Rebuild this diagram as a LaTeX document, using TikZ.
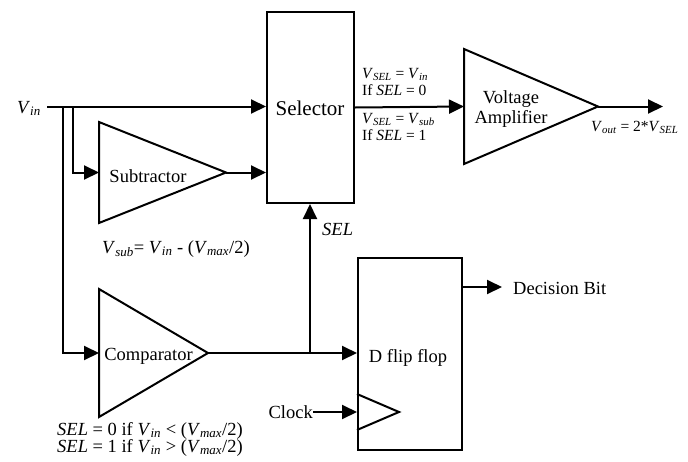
\documentclass[tikz,border=0pt]{standalone}
\usepackage{fontspec}
\setmainfont{Liberation Serif}
\usetikzlibrary{arrows.meta}

\newcommand{\Vx}[1]{\textit{V}\textsubscript{\textit{#1}}}

\tikzset{
  wire/.style={line width=2pt, line join=miter},
  sig/.style={wire, -{Triangle[length=15pt,width=14pt]}},
  blockbox/.style={draw, wire, anchor=north west, inner sep=0pt},
  lbl/.style={font=\fontsize{18.5}{20}\selectfont, inner sep=0pt},
  small/.style={font=\fontsize{15.5}{17}\selectfont, inner sep=0pt, anchor=base west},
}

\begin{document}
\begin{tikzpicture}[x=1pt, y=-1pt]
    \useasboundingbox (0, 0) rectangle (688, 461);
    % blocks
    \node[blockbox, minimum width=87pt, minimum height=191pt] (sel) at (266, 11) {};
    \node[lbl, font=\fontsize{21}{24}\selectfont, anchor=base] (seltxt) at (310, 115) {Selector};
    \node[blockbox, minimum width=104pt, minimum height=192pt] (dff) at (357, 257) {};
    \node[lbl, anchor=base] (dfftxt) at (408, 362) {D flip flop};
    \draw[wire] (357, 394) to (399, 412) to (357, 430);
    % triangles
    \coordinate (subin) at (99, 172.5);
    \coordinate (subtip) at (226, 172.5);
    \draw[wire] (99, 122) to (subtip) to (99, 223) to cycle;
    \node[lbl, anchor=base] (subtxt) at (148, 182) {Subtractor};
    \coordinate (compin) at (99, 353);
    \coordinate (comptip) at (208, 353);
    \draw[wire] (99, 289) to (comptip) to (99, 417) to cycle;
    \node[lbl, anchor=base] (comptxt) at (148.5, 360) {Comparator};
    \coordinate (ampin) at (464, 106.5);
    \coordinate (amptip) at (598, 106.5);
    \draw[wire] (464, 49) to (amptip) to (464, 164) to cycle;
    \node[lbl, anchor=base] (amptxt1) at (511, 103) {Voltage};
    \node[lbl, anchor=base] (amptxt2) at (511, 123) {Amplifier};
    % signals
    \node[lbl, anchor=base east] (vin) at (41, 113) {\Vx{in}};
    \coordinate (vinst) at (47, 106.5);
    \coordinate (br1) at (63, 106.5);
    \coordinate (br2) at (73, 106.5);
    \coordinate (junc) at (310, 353);
    \coordinate (vout) at (663, 106.5);
    \coordinate (dffq) at (461, 287);
    \draw[sig] (vinst) to (vinst -| sel.west);
    \draw[sig] (br2) |- (subin);
    \draw[sig] (br1) |- (compin);
    \draw[sig] (subtip) to (subtip -| sel.west);
    \draw[sig] (sel.east) to (ampin);
    \draw[sig] (amptip) to (vout);
    \draw[sig] (comptip) to (comptip -| dff.west);
    \draw[sig] (junc) to (junc |- sel.south);
    \node[lbl, anchor=east] (clk) at (313, 412) {Clock};
    \draw[sig] (clk.east) to (clk.east -| dff.west);
    \node[lbl, anchor=west] (dec) at (513, 288) {Decision Bit};
    \draw[sig] (dffq) to (502, 287);
    % labels
    \node[small] (case0a) at (362, 78) {\Vx{SEL} = \Vx{in}};
    \node[small] (case0b) at (362, 95) {If \textit{SEL} = 0};
    \node[small] (case1a) at (362, 123) {\Vx{SEL} = \Vx{sub}};
    \node[small] (case1b) at (362, 140) {If \textit{SEL} = 1};
    \node[small] (voutlbl) at (591, 131) {\Vx{out} = 2*\Vx{SEL}};
    \node[lbl, anchor=base west] (sellbl) at (322, 235) {\textit{SEL}};
    \node[lbl, anchor=base west] (sublbl) at (102, 253) {\Vx{sub}= \Vx{in} - (\Vx{max}/2)};
    \node[lbl, anchor=base west] (cmp0) at (57, 435) {\textit{SEL} = 0 if \Vx{in} < (\Vx{max}/2)};
    \node[lbl, anchor=base west] (cmp1) at (57, 452) {\textit{SEL} = 1 if \Vx{in} > (\Vx{max}/2)};
\end{tikzpicture}
\end{document}
